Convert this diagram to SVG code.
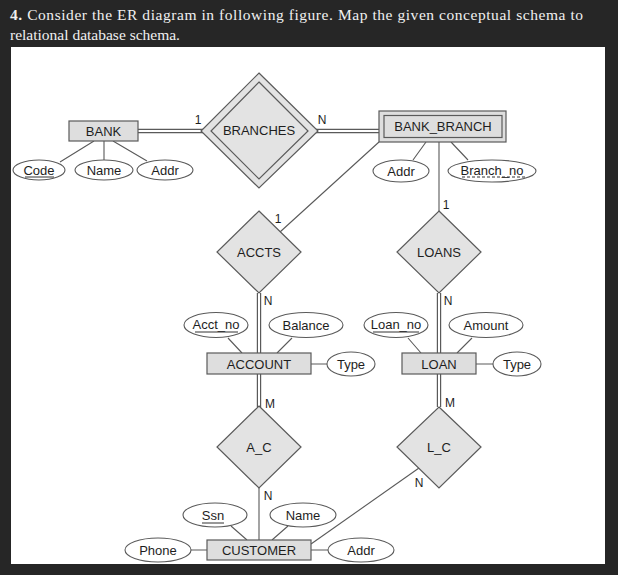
<svg xmlns="http://www.w3.org/2000/svg" width="618" height="575" viewBox="0 0 618 575">
<style>
.bg{fill:#262626}
.hdr{font-family:"Liberation Serif",serif;font-size:15.5px;fill:#f0f0f0}
.ent{fill:#dedede;stroke:#5a5a5a;stroke-width:1.2}
.rel{fill:#e3e3e3;stroke:#5a5a5a;stroke-width:1.2}
.att{fill:#fff;stroke:#5a5a5a;stroke-width:1.1}
.t{font-family:"Liberation Sans",Arial,sans-serif;font-size:13px;fill:#1e1e1e;text-anchor:middle}
.lbl{font-family:"Liberation Sans",Arial,sans-serif;font-size:12px;fill:#1e1e1e;text-anchor:middle}
.ln{stroke:#5a5a5a;stroke-width:1.1;fill:none}
.dbo{stroke:#5a5a5a;stroke-width:4.4;fill:none}
.dbi{stroke:#fff;stroke-width:2;fill:none}
.ul{stroke:#333;stroke-width:1}
.uld{stroke:#333;stroke-width:1;stroke-dasharray:3,2}
</style>
<rect class="bg" x="0" y="0" width="618" height="575"/>
<rect x="11" y="47" width="594" height="517" fill="#fff"/>
<text class="hdr" x="10" y="19.5" textLength="573" lengthAdjust="spacing"><tspan font-weight="bold">4.</tspan> Consider the ER diagram in following figure. Map the given conceptual schema to</text>
<text class="hdr" x="10" y="40">relational database schema.</text>

<g id="connectors">
  <path class="dbo" d="M138 131 H203 M316 131 H380 M259 293 V353 M259 374 V407 M439 293 V353 M439 374 V407"/>
  <path class="dbi" d="M138 131 H203 M316 131 H380 M259 293 V353 M259 374 V407 M439 293 V353 M439 374 V407"/>
  <path class="ln" d="M94 141 L60 162 M104 141 V160 M113 141 L147 161"/>
  <path class="ln" d="M379 142 L280 232 M439 142 V211 M426 142 L413 160 M451 142 L468 160"/>
  <path class="ln" d="M228 338 L242 353 M292 338 L277 353 M311 364 H327"/>
  <path class="ln" d="M408 338 L421 353 M472 338 L457 353 M476 364 H493"/>
  <path class="ln" d="M259 488 V540 M231 526 L247 540 M288 526 L272 540 M191 550 H207 M311 550 H328"/>
  <path class="ln" d="M419 468 L311 544"/>
  <text class="lbl" x="198" y="124">1</text>
  <text class="lbl" x="322" y="124">N</text>
  <text class="lbl" x="278" y="223">1</text>
  <text class="lbl" x="446" y="209">1</text>
  <text class="lbl" x="268" y="305">N</text>
  <text class="lbl" x="448" y="305">N</text>
  <text class="lbl" x="270" y="408">M</text>
  <text class="lbl" x="450" y="407">M</text>
  <text class="lbl" x="268" y="500">N</text>
  <text class="lbl" x="419" y="487">N</text>
</g>

<g id="BANK">
  <rect class="ent" x="69" y="121" width="69" height="20"/>
  <text class="t" x="103.5" y="136">BANK</text>
</g>
<g id="BANK_Code">
  <ellipse class="att" cx="39" cy="170" rx="26" ry="10"/>
  <text class="t" x="39" y="175">Code</text>
  <line class="ul" x1="25" y1="177" x2="54" y2="177"/>
</g>
<g id="BANK_Name">
  <ellipse class="att" cx="104" cy="170" rx="29" ry="10"/>
  <text class="t" x="104" y="175">Name</text>
</g>
<g id="BANK_Addr">
  <ellipse class="att" cx="165" cy="170" rx="28" ry="10"/>
  <text class="t" x="165" y="175">Addr</text>
</g>

<g id="BRANCHES">
  <polygon class="rel" points="259,73 318,131 259,188 201,131"/>
  <polygon class="rel" points="259,82 308,131 259,179 211,131"/>
  <text class="t" x="259" y="135">BRANCHES</text>
</g>

<g id="BANK_BRANCH">
  <rect class="ent" x="379" y="111" width="127" height="31"/>
  <rect class="ent" x="384" y="115.5" width="118" height="22"/>
  <text class="t" x="443" y="131">BANK_BRANCH</text>
</g>
<g id="BB_Addr">
  <ellipse class="att" cx="401" cy="171" rx="28" ry="11"/>
  <text class="t" x="401" y="176">Addr</text>
</g>
<g id="BB_Branch_no">
  <ellipse class="att" cx="492" cy="171" rx="44" ry="11"/>
  <text class="t" x="492" y="175">Branch_no</text>
  <line class="uld" x1="462" y1="177" x2="526" y2="177"/>
</g>

<g id="ACCTS">
  <polygon class="rel" points="259,211 301,252 259,293 217,252"/>
  <text class="t" x="259" y="257">ACCTS</text>
</g>
<g id="LOANS">
  <polygon class="rel" points="439,211 481,252 439,293 397,252"/>
  <text class="t" x="439" y="257">LOANS</text>
</g>

<g id="ACCOUNT">
  <rect class="ent" x="207" y="353" width="104" height="21"/>
  <text class="t" x="259" y="368.5">ACCOUNT</text>
</g>
<g id="ACC_Acct_no">
  <ellipse class="att" cx="216" cy="325" rx="32" ry="12.5"/>
  <text class="t" x="216" y="329">Acct_no</text>
  <line class="ul" x1="195" y1="332" x2="238" y2="332"/>
</g>
<g id="ACC_Balance">
  <ellipse class="att" cx="306" cy="325" rx="37" ry="12.5"/>
  <text class="t" x="306" y="330">Balance</text>
</g>
<g id="ACC_Type">
  <ellipse class="att" cx="351" cy="364" rx="24" ry="12"/>
  <text class="t" x="351" y="369">Type</text>
</g>

<g id="LOAN">
  <rect class="ent" x="402" y="353" width="74" height="21"/>
  <text class="t" x="439" y="368.5">LOAN</text>
</g>
<g id="LOAN_Loan_no">
  <ellipse class="att" cx="396" cy="325" rx="32" ry="12.5"/>
  <text class="t" x="396" y="329">Loan_no</text>
  <line class="ul" x1="373" y1="332" x2="419" y2="332"/>
</g>
<g id="LOAN_Amount">
  <ellipse class="att" cx="486" cy="325" rx="37" ry="12.5"/>
  <text class="t" x="486" y="330">Amount</text>
</g>
<g id="LOAN_Type">
  <ellipse class="att" cx="517" cy="364" rx="24" ry="12"/>
  <text class="t" x="517" y="369">Type</text>
</g>

<g id="A_C">
  <polygon class="rel" points="259,406 301,447 259,488 217,447"/>
  <text class="t" x="259" y="452">A_C</text>
</g>
<g id="L_C">
  <polygon class="rel" points="439,407 481,447 439,488 397,447"/>
  <text class="t" x="439" y="452">L_C</text>
</g>

<g id="CUSTOMER">
  <rect class="ent" x="207" y="540" width="104" height="20"/>
  <text class="t" x="259" y="555">CUSTOMER</text>
</g>
<g id="CUS_Ssn">
  <ellipse class="att" cx="215" cy="515" rx="32" ry="12"/>
  <text class="t" x="213" y="520">Ssn</text>
  <line class="ul" x1="202" y1="523" x2="224" y2="523"/>
</g>
<g id="CUS_Name">
  <ellipse class="att" cx="303" cy="515" rx="33" ry="12"/>
  <text class="t" x="303" y="520">Name</text>
</g>
<g id="CUS_Phone">
  <ellipse class="att" cx="158" cy="550" rx="33" ry="12"/>
  <text class="t" x="158" y="555">Phone</text>
</g>
<g id="CUS_Addr">
  <ellipse class="att" cx="361" cy="550" rx="33" ry="12"/>
  <text class="t" x="361" y="555">Addr</text>
</g>
</svg>
